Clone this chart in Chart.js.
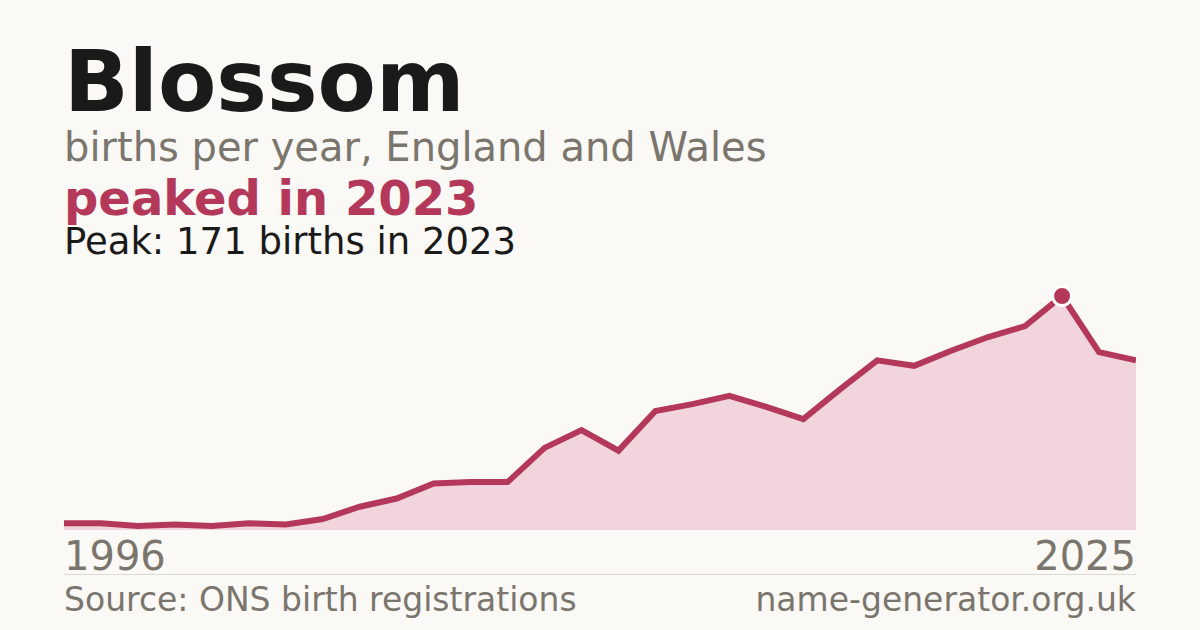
<!DOCTYPE html>
<html>
<head>
  <meta charset="UTF-8">
  <title>Blossom</title>
  <script src="https://cdn.jsdelivr.net/npm/chart.js"></script>
  <style>
    html, body { margin: 0; padding: 0; }
    body {
      width: 1200px; height: 630px; overflow: hidden; position: relative;
      background: #faf9f5; font-family: "DejaVu Sans", sans-serif;
    }
    .t { position: absolute; left: 64px; white-space: nowrap; line-height: 1; }
    #title { top: 39px; font-size: 85px; font-weight: bold; color: #1a1a1a; }
    #sub { top: 127px; font-size: 40px; color: #7a756d; }
    #hook { top: 174px; font-size: 48px; font-weight: bold; color: #b3385a; }
    #peak { top: 223px; font-size: 37px; color: #1a1a1a; }
    #chartBox { position: absolute; left: 64px; top: 270px; width: 1072px; height: 260px; }
    .yr { position: absolute; top: 536px; font-size: 40px; color: #7a756d; line-height: 1; }
    #rule { position: absolute; left: 64px; top: 574px; width: 1072px; height: 1px; background: #dddad3; }
    .foot { position: absolute; top: 583px; font-size: 33px; color: #7a756d; line-height: 1; white-space: nowrap; }
  </style>
</head>
<body>
  <div class="t" id="title">Blossom</div>
  <div class="t" id="sub">births per year, England and Wales</div>
  <div class="t" id="hook">peaked in 2023</div>
  <div class="t" id="peak">Peak: 171 births in 2023</div>

  <div id="chartBox"><canvas id="chart"></canvas></div>

  <div class="yr" id="yStart" style="left:64px">1996</div>
  <div class="yr" id="yEnd" style="right:64px">2025</div>
  <div id="rule"></div>
  <div class="foot" style="left:64px">Source: ONS birth registrations</div>
  <div class="foot" style="right:64px">name-generator.org.uk</div>

  <script>
    const years = [1996, 1997, 1998, 1999, 2000, 2001, 2002, 2003, 2004, 2005,
                   2006, 2007, 2008, 2009, 2010, 2011, 2012, 2013, 2014, 2015,
                   2016, 2017, 2018, 2019, 2020, 2021, 2022, 2023, 2024, 2025];
    const births = [5, 5, 3, 4, 3, 5, 4, 8, 17, 23,
                    34, 35, 35, 60, 73, 58, 87, 92, 98, 90,
                    81, 103, 124, 120, 131, 141, 149, 171, 130, 124];

    const peakIdx = births.indexOf(Math.max(...births));
    const accent = '#b3385a';

    window.onload = () => {
      const ctx = document.getElementById('chart').getContext('2d');
      new Chart(ctx, {
        type: 'line',
        data: {
          labels: years,
          datasets: [{
            data: births,
            borderColor: accent,
            borderWidth: 6,
            backgroundColor: '#f2d5dc',
            fill: 'origin',
            tension: 0,
            borderJoinStyle: 'miter',
            clip: false,
            pointRadius: births.map((v, i) => i === peakIdx ? 9.5 : 0),
            pointBackgroundColor: accent,
            pointBorderColor: '#ffffff',
            pointBorderWidth: 3,
            pointHoverRadius: 0
          }]
        },
        options: {
          responsive: true,
          maintainAspectRatio: false,
          animation: false,
          layout: { padding: 0 },
          plugins: { legend: { display: false }, tooltip: { enabled: false } },
          scales: {
            x: { display: false, offset: false },
            y: { display: false, min: 0, max: 190 }
          }
        }
      });
    };
  </script>
</body>
</html>
